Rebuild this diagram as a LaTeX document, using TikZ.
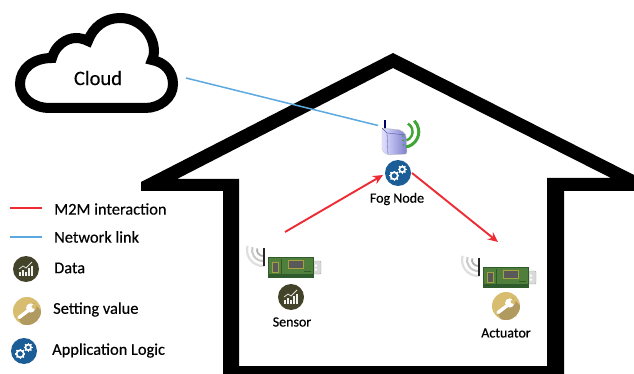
\documentclass[tikz,border=0pt]{standalone}
\usepackage{fontspec}
\setmainfont{Carlito}
\usetikzlibrary{arrows.meta,calc}
\definecolor{redline}{HTML}{EE2A33}
\definecolor{blueline}{HTML}{5BA9DE}
\definecolor{olive}{HTML}{43432A}
\definecolor{gold}{HTML}{D8BC70}
\definecolor{goldshade}{HTML}{B09A60}
\definecolor{bluei}{HTML}{1B5E97}
\definecolor{pcb}{HTML}{4F7F3A}
\definecolor{pcbdark}{HTML}{2F5A2C}
\definecolor{wifigreen}{HTML}{3FA535}
\tikzset{
  labeltext/.style={inner sep=0pt,font=\fontsize{14}{16}\selectfont\addfontfeatures{FakeBold=0.6},text=black},
  legendtext/.style={inner sep=0pt,anchor=west,font=\fontsize{16.4}{18}\selectfont\addfontfeatures{FakeBold=0.3},text=black},
  m2m/.style={draw=redline,line width=1.9pt},
  netlink/.style={draw=blueline,line width=1.5pt},
  iconbase/.style={circle,inner sep=0pt,minimum size=#1},
  gearicon/.pic={
    \fill[bluei] (0,0) circle (13);
    \foreach \cx/\cy/\rr in {-3.8/2.8/3.6,4.2/-3.6/2.8}{
      \draw[white,line width=1.7pt] (\cx,\cy) circle (\rr);
      \foreach \a in {0,45,...,315}{
        \draw[white,line width=1.4pt] ($(\cx,\cy)+(\a:\rr)$) -- ($(\cx,\cy)+(\a:\rr+1.6)$);
      }
    }
  },
  dataicon/.pic={
    \fill[olive] (0,0) circle (13);
    \fill[white!92!olive] (-7,3) rectangle (-5.2,6.5);
    \fill[white!92!olive] (-4,1) rectangle (-2.2,6.5);
    \fill[white!92!olive] (-1,2.5) rectangle (.8,6.5);
    \fill[white!92!olive] (2,-1) rectangle (3.8,6.5);
    \fill[white!92!olive] (5,-3.5) rectangle (6.8,6.5);
    \draw[white!85!olive,line width=.8pt] (-7,0) -- (-3,-3) -- (0,-1) -- (6,-7);
  },
  wrenchicon/.pic={
    \fill[gold] (0,0) circle (14);
    \begin{scope}
      \clip (0,0) circle (14);
      \fill[goldshade] (-9,7) -- (3,-3) -- (7,-8) -- (16,2) -- (16,16) -- (-3,16) -- cycle;
    \end{scope}
    \draw[white,line width=3.4pt,line cap=round] (-8,6.5) -- (2,-1);
    \fill[white] (3.7,-3) circle (4.6);
    \fill[gold] (4.5,-5.2) -- (10,-8) -- (9,-1.5) -- (5,-3) -- cycle;
  },
  routericon/.pic={
    \draw[line width=1.7pt,draw=black!60!blue] (-13,-18) -- (-13,-8);
    \shade[left color=blue!12!white,right color=blue!45!gray!70,draw=gray!50,line width=.3pt,rounded corners=2pt]
      (-16,-10) -- (3,-8) -- (8,-3) -- (9,16) -- (-10,17) -- (-16,13) -- cycle;
    \draw[gray!70!blue,line width=.4pt] (-16,-10) -- (-11,-5) -- (8,-3);
    \draw[gray!60!blue,line width=.3pt] (-11,-5) -- (-10,17);
    \fill[wifigreen] (4.8,-2) circle (.9) (5.1,2.5) circle (.9) (5.4,7) circle (.9);
    \draw[wifigreen,line width=2.4pt] ($(5.3,-6.3)+(70:9.3)$) arc[start angle=70,end angle=-60,radius=9.3];
    \draw[wifigreen,line width=3pt] ($(5.3,-6.3)+(80:15.5)$) arc[start angle=80,end angle=-45,radius=15.5];
  },
  deviceicon/.pic={
    \draw[gray!60,line width=1.8pt] ($(-7,-7)+(85:6)$) arc[start angle=85,end angle=195,radius=6];
    \draw[gray!42,line width=2pt] ($(-7,-7)+(85:11)$) arc[start angle=85,end angle=195,radius=11];
    \draw[gray!25,line width=2.2pt] ($(-7,-7)+(85:16)$) arc[start angle=85,end angle=195,radius=16];
    \draw[black!85,line width=1.4pt] (-6,-9) -- (-6,9);
    \fill[gray!30,draw=gray!65,line width=.4pt,rounded corners=1pt] (39,4) rectangle (51,17);
    \fill[white] (45,7.5) rectangle (47,9.5) (45,11.5) rectangle (47,13.5);
    \fill[pcb,draw=pcbdark,line width=.5pt] (-2,0) rectangle (43,20);
    \fill[black!65,draw=yellow!60!black,line width=.6pt] (2,5) rectangle (8,15);
    \fill[black!65,draw=yellow!60!black,line width=.6pt] (18,3) rectangle (33,11);
    \draw[pcbdark,line width=.3pt] (11,2) -- (11,17) (34,14) -- (41,14);
    \fill[pcbdark] (-2,17) rectangle (43,20);
  }
}
\begin{document}
\begin{tikzpicture}[x=1pt,y=-1pt]
\useasboundingbox (0,0) rectangle (634,374);
\fill[white] (0,0) rectangle (634,374);
% house
\fill[black,even odd rule]
  (141,182) -- (393,53) -- (634,175) -- (634,191) -- (564,191) -- (564,374) -- (223,374) -- (223,191) -- (141,191) -- cycle
  (177,179) -- (393,68) -- (611,178) -- (547,178) -- (547,366) -- (239,366) -- (239,179) -- cycle;
% cloud
\draw[black,line width=10pt,fill=white,miter limit=3]
  (50,108) .. controls (33,108) and (20,98) .. (20,84)
  .. controls (20,69) and (33,58) .. (52,58)
  .. controls (55,46) and (66,38) .. (76,38)
  .. controls (80,38) and (84,39) .. (88,41)
  .. controls (93,27) and (105,18) .. (120,18)
  .. controls (139,18) and (154,33) .. (154,52)
  .. controls (154,55) and (153,58) .. (152,60)
  .. controls (164,62) and (173,71) .. (173,84)
  .. controls (173,98) and (160,108) .. (145,108) -- cycle;
\node[inner sep=0pt,font=\fontsize{20.5}{22}\selectfont\addfontfeatures{FakeBold=0.3}] (cloud) at (98,78) {Cloud};
% equipment
\pic at (398,138) {routericon};
\coordinate (router) at (378,125.5);
\coordinate (cloudedge) at (186,78);
\draw[netlink] (cloudedge) -- (router);
\pic at (270,257) {deviceicon};
\pic at (485,267) {deviceicon};
\node[iconbase=26pt] (fogicon) at (398,173) {};
\pic at (fogicon.center) {gearicon};
\node[iconbase=26pt] (sensoricon) at (291,297) {};
\pic at (sensoricon.center) {dataicon};
\node[iconbase=28pt] (actuatoricon) at (506,306) {};
\pic at (actuatoricon.center) {wrenchicon};
\node[labeltext] (fogl) at (397,199) {Fog Node};
\node[labeltext] (sensorl) at (292,322) {Sensor};
\node[labeltext] (actuatorl) at (506,333) {Actuator};
% M2M arrows
\coordinate (sensorout) at (285,232);
\coordinate (fogin) at (383,175);
\coordinate (fogout) at (412,173);
\coordinate (actin) at (498,242);
\draw[m2m,-{Stealth[length=10pt,width=9pt]}] (sensorout) -- (fogin);
\draw[m2m,-{Stealth[length=10pt,width=9pt]}] (fogout) -- (actin);
% legend
\coordinate (la) at (10,208); \coordinate (lb) at (42,208);
\coordinate (lc) at (10,237); \coordinate (ld) at (42,237);
\draw[m2m] (la) -- (lb);
\draw[netlink] (lc) -- (ld);
\node[legendtext] (t1) at (54,209) {M2M interaction};
\node[legendtext] (t2) at (54,237) {Network link};
\node[legendtext] (t3) at (54,268) {Data};
\node[legendtext] (t4) at (53,309.5) {Setting value};
\node[legendtext] (t5) at (52,350.5) {Application Logic};
\node[iconbase=26pt] (li1) at (26,269) {};
\pic at (li1.center) {dataicon};
\node[iconbase=28pt] (li2) at (27,311) {};
\pic at (li2.center) {wrenchicon};
\node[iconbase=26pt] (li3) at (24,351) {};
\pic at (li3.center) {gearicon};
\end{tikzpicture}
\end{document}
